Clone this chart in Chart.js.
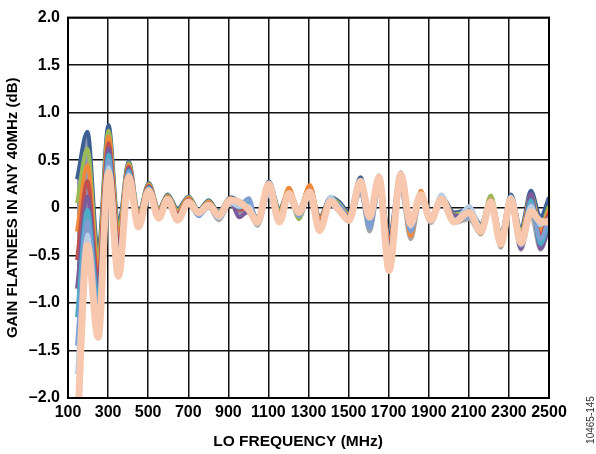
<!DOCTYPE html>
<html>
<head>
<meta charset="utf-8">
<script src="https://cdn.jsdelivr.net/npm/chart.js@4.4.1/dist/chart.umd.min.js"></script>
<style>
  body { margin: 0; background: #fff; }
  #wrap { width: 596px; height: 454px; }
</style>
</head>
<body>
<div id="wrap"><canvas id="chart" width="596" height="454"></canvas></div>
<script>
// LO frequency points (MHz), picked at the ripple peaks and troughs
const FREQ = [145, 197, 250, 302, 352, 403, 452, 503, 553,
  597, 647, 702, 752, 802, 852,
  910, 955, 1002, 1045, 1102, 1155,
  1202, 1252, 1307, 1355, 1410, 1455,
  1502, 1560, 1605, 1652, 1702, 1760,
  1810, 1860, 1910, 1963, 2027, 2102,
  2160, 2210, 2260, 2310, 2360, 2410,
  2457, 2500];

// gain flatness (dB), one array per trace
const darkBlue = [0.30, 0.80, -0.46, 0.87, -0.18, 0.49, -0.05, 0.26, -0.01,
  0.14, -0.01, 0.12, -0.02, 0.08, -0.04,
  0.11, 0.07, 0.03, -0.10, 0.28, -0.01,
  0.18, -0.01, 0.22, -0.10, 0.11, 0.06,
  -0.05, 0.32, -0.05, 0.34, -0.30, 0.37,
  -0.12, 0.15, -0.09, 0.12, -0.05, -0.02,
  -0.17, 0.10, -0.27, 0.14, -0.22, 0.18,
  -0.10, 0.11];
const green = [0.05, 0.62, -0.56, 0.81, -0.25, 0.47, -0.07, 0.25, -0.02,
  0.13, -0.03, 0.11, -0.03, 0.07, -0.05,
  0.10, 0.04, 0.02, -0.11, 0.26, -0.03,
  0.17, -0.12, 0.20, -0.13, 0.10, 0.04,
  -0.07, 0.29, -0.22, 0.30, -0.40, 0.33,
  -0.15, 0.14, -0.10, 0.11, -0.07, -0.04,
  -0.19, 0.13, -0.30, 0.12, -0.26, 0.14,
  -0.20, 0.02];
const orange = [-0.25, 0.45, -0.66, 0.75, -0.32, 0.45, -0.09, 0.24, -0.03,
  0.12, -0.05, 0.10, -0.04, 0.06, -0.06,
  0.10, 0.02, 0.01, -0.12, 0.24, -0.05,
  0.21, -0.03, 0.24, -0.12, 0.09, 0.02,
  -0.08, 0.27, -0.08, 0.28, -0.35, 0.31,
  -0.30, 0.18, -0.11, 0.10, -0.09, -0.06,
  -0.27, 0.09, -0.40, 0.11, -0.29, 0.12,
  -0.25, -0.02];
const red = [-0.55, 0.28, -0.76, 0.68, -0.39, 0.43, -0.11, 0.23, -0.04,
  0.11, -0.06, 0.09, -0.05, 0.05, -0.07,
  0.09, -0.02, 0.00, -0.13, 0.22, -0.07,
  0.16, -0.04, 0.19, -0.15, 0.08, 0.01,
  -0.09, 0.25, -0.10, 0.27, -0.38, 0.29,
  -0.18, 0.13, -0.12, 0.09, -0.10, -0.07,
  -0.21, 0.08, -0.32, 0.10, -0.32, 0.10,
  -0.30, -0.06];
const purple = [-0.85, 0.12, -0.86, 0.62, -0.46, 0.41, -0.13, 0.22, -0.05,
  0.10, -0.08, 0.08, -0.05, 0.04, -0.08,
  0.08, -0.10, -0.03, -0.15, 0.20, -0.09,
  0.14, -0.06, 0.17, -0.17, 0.07, 0.00,
  -0.10, 0.23, -0.12, 0.25, -0.42, 0.27,
  -0.20, 0.12, -0.13, 0.08, -0.08, -0.09,
  -0.22, 0.06, -0.34, 0.08, -0.43, 0.15,
  -0.43, -0.20];
const teal = [-1.15, -0.02, -0.96, 0.56, -0.53, 0.39, -0.15, 0.21, -0.07,
  0.09, -0.09, 0.07, -0.06, 0.03, -0.09,
  0.07, 0.00, 0.05, -0.14, 0.18, -0.11,
  0.13, -0.07, 0.16, -0.19, 0.06, -0.01,
  -0.11, 0.21, -0.15, 0.23, -0.45, 0.25,
  -0.22, 0.11, -0.14, 0.07, -0.12, -0.08,
  -0.23, 0.05, -0.36, 0.07, -0.38, 0.08,
  -0.38, -0.14];
const steel = [-1.45, -0.14, -1.08, 0.50, -0.60, 0.37, -0.17, 0.20, -0.08,
  0.08, -0.11, 0.05, -0.09, 0.02, -0.10,
  0.06, 0.03, 0.10, -0.16, 0.16, -0.13,
  0.12, -0.09, 0.14, -0.21, 0.05, 0.03,
  -0.12, 0.17, -0.22, 0.20, -0.50, 0.22,
  -0.25, 0.10, -0.15, 0.06, -0.13, -0.10,
  -0.24, 0.04, -0.37, 0.05, -0.40, 0.04,
  -0.33, -0.10];
const lightBlue = [-1.75, -0.28, -1.22, 0.43, -0.66, 0.35, -0.19, 0.19, -0.10,
  0.07, -0.12, 0.04, -0.07, 0.01, -0.11,
  0.05, 0.01, 0.02, -0.17, 0.14, -0.14,
  0.11, -0.05, 0.13, -0.23, 0.12, -0.02,
  -0.13, 0.24, -0.09, 0.30, -0.55, 0.30,
  -0.20, 0.13, -0.12, 0.14, -0.14, 0.02,
  -0.20, 0.08, -0.33, 0.12, -0.30, 0.02,
  -0.18, -0.12];
const grey = [-2.20, -0.39, -1.36, 0.37, -0.72, 0.32, -0.20, 0.18, -0.11,
  0.06, -0.14, 0.03, -0.08, 0.00, -0.13,
  0.04, -0.08, -0.05, -0.19, 0.13, -0.16,
  0.10, -0.10, 0.12, -0.25, 0.03, -0.05,
  -0.15, 0.16, -0.25, 0.20, -0.66, 0.20,
  -0.33, 0.09, -0.16, 0.05, -0.16, -0.12,
  -0.28, 0.01, -0.42, 0.02, -0.44, -0.08,
  -0.44, -0.22];
const peach = [-2.40, -0.39, -1.36, 0.37, -0.72, 0.32, -0.20, 0.18, -0.11,
  0.09, -0.13, 0.06, -0.05, 0.03, -0.08,
  0.08, 0.06, -0.02, -0.15, 0.25, -0.15,
  0.15, -0.05, 0.17, -0.24, 0.07, -0.03,
  -0.13, 0.28, -0.10, 0.32, -0.66, 0.35,
  -0.17, 0.14, -0.13, 0.09, -0.15, -0.05,
  -0.25, 0.06, -0.38, 0.09, -0.37, -0.04,
  -0.14, -0.15];

const X_TICKS = [100, 300, 500, 700, 900, 1100, 1300, 1500, 1700, 1900, 2100, 2300, 2500];
const Y_TICKS = [-2, -1.5, -1, -0.5, 0, 0.5, 1, 1.5, 2];
const FONT = 'Arial, "Liberation Sans", sans-serif';

const pts = arr => arr.map((v, i) => ({ x: FREQ[i], y: v }));

// peach first so it is drawn on top; grey is index 9 (fill target)
const traces = [
  { data: peach, color: '#f7c7ae', width: 7 },
  { data: lightBlue, color: '#b7cde6', width: 4 },
  { data: steel, color: '#7f9fd3', width: 4 },
  { data: teal, color: '#4bacc6', width: 4 },
  { data: purple, color: '#7a5c9c', width: 4 },
  { data: red, color: '#c0504d', width: 4 },
  { data: orange, color: '#f08a3a', width: 4 },
  { data: green, color: '#9bbb59', width: 4 },
  { data: darkBlue, color: '#3d5f94', width: 4, fill: { target: 9 } },
  { data: grey, color: '#a6a6a6', width: 4 },
];

const frame = {
  id: 'frame',
  afterDatasetsDraw(chart) {
    const { ctx, chartArea: a } = chart;
    ctx.save();
    ctx.strokeStyle = '#000';
    ctx.lineWidth = 2;
    ctx.strokeRect(a.left, a.top, a.right - a.left, a.bottom - a.top);
    ctx.restore();
  },
  afterDraw(chart) {
    const ctx = chart.ctx;
    ctx.save();
    ctx.fillStyle = '#000';
    ctx.font = 'bold 15.5px ' + FONT;
    ctx.textAlign = 'center';
    ctx.textBaseline = 'middle';
    ctx.fillText('LO FREQUENCY (MHz)', 298, 442);
    ctx.translate(591, 420);
    ctx.rotate(-Math.PI / 2);
    ctx.font = '10px ' + FONT;
    ctx.fillStyle = '#333';
    ctx.fillText('10465-145', 0, 0);
    ctx.restore();
  }
};

new Chart(document.getElementById('chart'), {
  type: 'line',
  data: {
    datasets: traces.map(t => ({
      data: pts(t.data),
      borderColor: t.color,
      borderWidth: t.width,
      backgroundColor: '#9095b3',
      fill: t.fill || false,
      pointRadius: 0,
      cubicInterpolationMode: 'monotone',
    })),
  },
  options: {
    responsive: false,
    animation: false,
    layout: { padding: { left: 0, top: 13, right: 47, bottom: 0 } },
    plugins: {
      legend: { display: false },
      tooltip: { enabled: false },
      filler: { drawTime: 'beforeDatasetsDraw' },
    },
    scales: {
      x: {
        type: 'linear',
        min: 100,
        max: 2500,
        afterFit: s => { s.height = 56; },
        afterBuildTicks: s => { s.ticks = X_TICKS.map(v => ({ value: v })); },
        grid: { color: '#111', lineWidth: 1.5, drawTicks: false },
        border: { color: '#000', width: 2 },
        ticks: {
          autoSkip: false, maxRotation: 0, padding: 5, color: '#000',
          font: { family: FONT, size: 16, weight: 'bold' },
          callback: v => String(v),
        },
      },
      y: {
        min: -2,
        max: 2,
        afterFit: s => { s.width = 68; },
        afterBuildTicks: s => { s.ticks = Y_TICKS.map(v => ({ value: v })); },
        grid: { color: '#111', lineWidth: 1.5, drawTicks: false },
        border: { color: '#000', width: 2 },
        ticks: {
          padding: 8, color: '#000',
          font: { family: FONT, size: 16, weight: 'bold' },
          callback: v => v === 0 ? '0' : (v < 0 ? '\u2013' : '') + Math.abs(v).toFixed(1),
        },
        title: {
          display: true,
          text: 'GAIN FLATNEES IN ANY 40MHz (dB)',
          color: '#000',
          font: { family: FONT, size: 15, weight: 'bold' },
          padding: { top: 4, bottom: 0 },
        },
      },
    },
  },
  plugins: [frame],
});
</script>
</body>
</html>
